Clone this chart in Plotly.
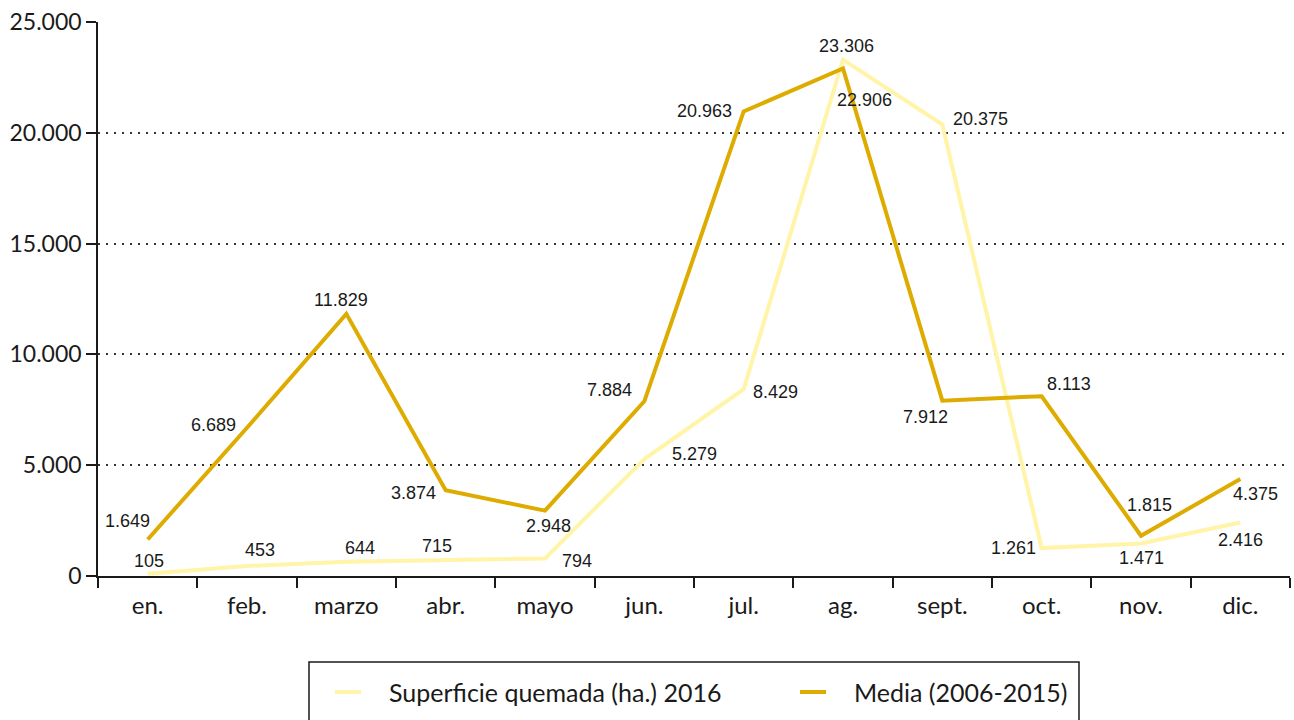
import plotly.graph_objects as go

# Months and monthly burned area (hectares)
months = ["en.", "feb.", "marzo", "abr.", "mayo", "jun.", "jul.", "ag.", "sept.", "oct.", "nov.", "dic."]
area_2016 = [105, 453, 644, 715, 794, 5279, 8429, 23306, 20375, 1261, 1471, 2416]
media_2006_2015 = [1649, 6689, 11829, 3874, 2948, 7884, 20963, 22906, 7912, 8113, 1815, 4375]
series_names = ["Superficie quemada (ha.) 2016", "Media (2006-2015)"]

y_ticks = [0, 5000, 10000, 15000, 20000, 25000]
y_tick_text = ["0", "5.000", "10.000", "15.000", "20.000", "25.000"]

# Pixel offsets of each value label from its point (dx, dy; dy up)
offsets_2016 = [(1, 13), (13, 16), (14, 14), (-9, 14), (32, -3), (50, 5),
                (32, -3), (3, 14), (38, 5), (-28, 0), (0, -15), (0, -18)]
offsets_media = [(-20, 18), (-34, 3), (-5, 14), (-32, -3), (3, -15), (-35, 11),
                 (-39, 0), (21, -32), (-17, -16), (27, 12), (8, 31), (15, -15)]

LIGHT = "#FFF4A8"
GOLD = "#DEAC00"
INK = "#1a1a1a"
AXIS_FONT = "Lato"
LABEL_FONT = "Liberation Sans"


def fmt(v):
    return f"{v:,}".replace(",", ".")


W, H = 1294, 720
L, R, T, B = 98, 4, 22, 144
pw, ph = W - L - R, H - T - B


def px_x(x):
    return (x - L) / pw


def px_y(y):
    return (H - B - y) / ph


fig = go.Figure()
colors = [LIGHT, GOLD]
for name, values, color in zip(series_names, (area_2016, media_2006_2015), colors):
    fig.add_trace(go.Scatter(x=months, y=values, mode="lines", name=name,
                             line=dict(color=color, width=4)))

annotations = []
for series, offs in ((area_2016, offsets_2016), (media_2006_2015, offsets_media)):
    for m, v, (dx, dy) in zip(months, series, offs):
        annotations.append(dict(x=m, y=v, text=fmt(v), showarrow=False,
                                xshift=dx, yshift=dy,
                                font=dict(family=LABEL_FONT, size=18, color=INK)))

# Legend box below the chart: frame, colour swatches and series names
shapes = [dict(type="rect", xref="paper", yref="paper",
               x0=px_x(309), x1=px_x(1079), y0=px_y(662), y1=px_y(730),
               line=dict(color=INK, width=1.5), fillcolor="rgba(0,0,0,0)")]
legend_y = 692
for name, color, x_start in zip(series_names, colors, (335, 800)):
    shapes.append(dict(type="line", xref="paper", yref="paper",
                       x0=px_x(x_start), x1=px_x(x_start + 26),
                       y0=px_y(legend_y), y1=px_y(legend_y),
                       line=dict(color=color, width=4)))
    annotations.append(dict(xref="paper", yref="paper", x=px_x(x_start + 52), y=px_y(legend_y),
                            xanchor="left", yanchor="middle", text=name, showarrow=False,
                            font=dict(family=AXIS_FONT, size=25, color=INK)))

fig.update_layout(
    width=W, height=H,
    margin=dict(l=L, r=R, t=T, b=B, autoexpand=False),
    paper_bgcolor="white", plot_bgcolor="white",
    showlegend=False,
    annotations=annotations,
    shapes=shapes,
)

fig.update_xaxes(
    type="category", range=[-0.5, 11.5],
    showline=True, linecolor=INK, linewidth=1.5,
    ticks="outside", tickson="boundaries", ticklen=10, tickcolor=INK, tickwidth=1.5,
    ticklabelstandoff=7,
    showgrid=False, zeroline=False,
    tickfont=dict(family=AXIS_FONT, size=24, color=INK),
)
fig.update_yaxes(
    range=[0, 25000], tickvals=y_ticks, ticktext=y_tick_text,
    showline=True, linecolor=INK, linewidth=1.5,
    ticks="outside", ticklen=10, tickcolor=INK, tickwidth=1.5,
    showgrid=True, gridcolor="#333333", griddash="2px,6px", gridwidth=1.5,
    zeroline=False,
    tickfont=dict(family=AXIS_FONT, size=23, color=INK),
)

fig.write_html("out.html")
